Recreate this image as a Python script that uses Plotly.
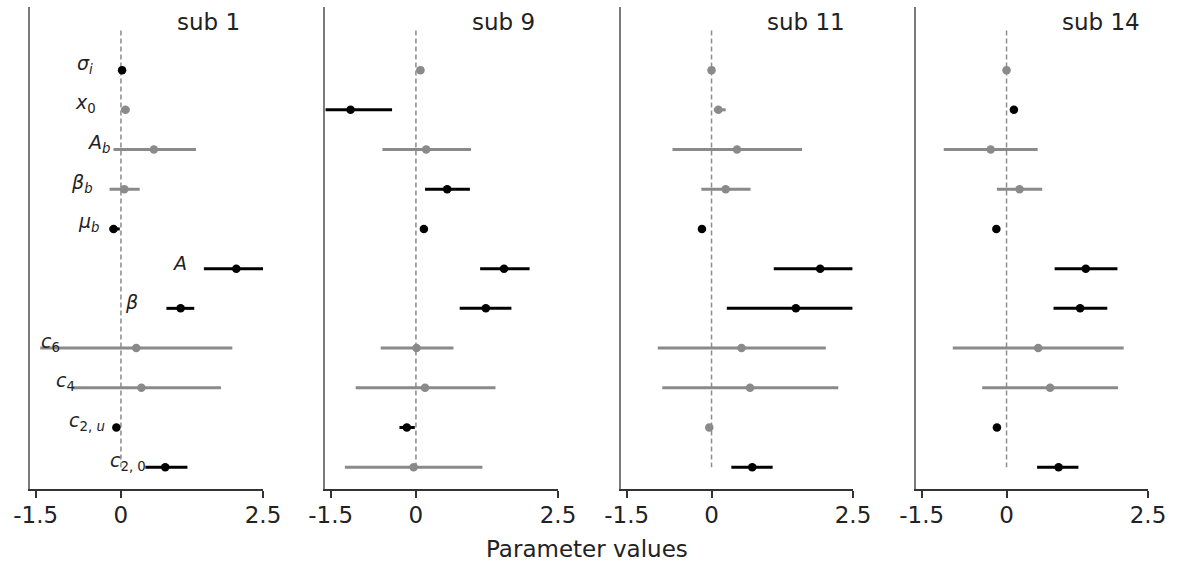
import plotly.graph_objects as go

# ---------------- data ----------------
PARAM_LABELS = [
    "<i>σ<sub>i</sub></i>",
    "<i>x</i><sub>0</sub>",
    "<i>A<sub>b</sub></i>",
    "<i>β<sub>b</sub></i>",
    "<i>μ<sub>b</sub></i>",
    "<i>A</i>",
    "<i>β</i>",
    "<i>c</i><sub>6</sub>",
    "<i>c</i><sub>4</sub>",
    "<i>c</i><sub>2, <i>u</i></sub>",
    "<i>c</i><sub>2, 0</sub>",
]
SUBJECTS = ["sub 1", "sub 9", "sub 11", "sub 14"]

sub1_mean = [0.02, 0.08, 0.58, 0.06, -0.13, 2.03, 1.05, 0.27, 0.36, -0.08, 0.78]
sub1_lo = [0.00, 0.00, -0.13, -0.20, -0.20, 1.46, 0.80, -1.42, -0.85, -0.12, 0.43]
sub1_hi = [0.04, 0.15, 1.32, 0.33, -0.02, 2.50, 1.29, 1.96, 1.76, -0.04, 1.17]
sub1_sig = [1, 0, 0, 0, 1, 1, 1, 0, 0, 1, 1]

sub9_mean = [0.08, -1.15, 0.18, 0.55, 0.14, 1.55, 1.23, 0.01, 0.16, -0.16, -0.04]
sub9_lo = [0.01, -1.59, -0.59, 0.16, 0.10, 1.13, 0.77, -0.62, -1.06, -0.29, -1.25]
sub9_hi = [0.13, -0.42, 0.97, 0.95, 0.18, 2.00, 1.68, 0.66, 1.40, -0.02, 1.17]
sub9_sig = [0, 1, 0, 1, 1, 1, 1, 0, 0, 1, 0]

sub11_mean = [0.00, 0.12, 0.45, 0.25, -0.17, 1.92, 1.49, 0.53, 0.68, -0.04, 0.72]
sub11_lo = [-0.03, 0.04, -0.69, -0.18, -0.20, 1.10, 0.27, -0.95, -0.87, -0.08, 0.35]
sub11_hi = [0.03, 0.25, 1.60, 0.69, -0.14, 2.49, 2.49, 2.02, 2.24, 0.00, 1.08]
sub11_sig = [0, 0, 0, 0, 1, 1, 1, 0, 0, 0, 1]

sub14_mean = [0.00, 0.13, -0.28, 0.23, -0.18, 1.40, 1.30, 0.56, 0.77, -0.17, 0.92]
sub14_lo = [-0.03, 0.10, -1.11, -0.17, -0.21, 0.85, 0.83, -0.95, -0.43, -0.20, 0.54]
sub14_hi = [0.03, 0.16, 0.55, 0.63, -0.15, 1.96, 1.78, 2.07, 1.97, -0.14, 1.27]
sub14_sig = [0, 1, 0, 0, 1, 1, 1, 0, 0, 1, 1]

TICK_VALS = [-1.5, 0, 2.5]
TICK_TEXT = ["-1.5", "0", "2.5"]

# ---------------- layout constants ----------------
W, H = 1178, 563
ML, MR, MT, MB = 30, 30, 7, 74
PW = W - ML - MR
PH = H - MT - MB
FONT = "DejaVu Sans"
BLACK = "#000000"
GREY = "#8a8a8a"
XRANGE = [-1.6, 2.5]
YRANGE = [10.55, -1.59]
DOMAINS_PX = [(30, 263), (325, 558), (621, 853), (916, 1148)]
# label anchor (right edge) positions for parameter names in first panel
LABEL_RIGHT_X = [-0.45, -0.40, -0.15, -0.45, -0.33, 1.19, 0.34, -1.03, -0.78, -0.24, 0.47]

panels = [
    (sub1_mean, sub1_lo, sub1_hi, sub1_sig),
    (sub9_mean, sub9_lo, sub9_hi, sub9_sig),
    (sub11_mean, sub11_lo, sub11_hi, sub11_sig),
    (sub14_mean, sub14_lo, sub14_hi, sub14_sig),
]

fig = go.Figure()
layout = dict(
    width=W, height=H,
    margin=dict(l=ML, r=MR, t=MT, b=MB, autoexpand=False),
    paper_bgcolor="white", plot_bgcolor="white",
    showlegend=False,
    font=dict(family=FONT, size=23, color="#222222"),
)
annotations = []
rows = list(range(len(PARAM_LABELS)))

for k, (mean, lo, hi, sig) in enumerate(panels):
    sfx = "" if k == 0 else str(k + 1)
    xa, ya = "x" + sfx, "y" + sfx
    d0, d1 = DOMAINS_PX[k]
    layout["xaxis" + sfx] = dict(
        domain=[(d0 - ML) / PW, (d1 - ML) / PW], range=XRANGE, anchor=ya,
        automargin=False,
        showgrid=False, zeroline=False, showline=True, linecolor="#333333", linewidth=2,
        ticks="outside", ticklen=7, tickwidth=2, tickcolor="#333333",
        tickvals=TICK_VALS, ticktext=TICK_TEXT, ticklabelstandoff=-3,
        tickfont=dict(family=FONT, size=23, color="#222222"),
    )
    layout["yaxis" + sfx] = dict(
        domain=[0, 1], range=YRANGE, anchor=xa, automargin=False,
        showgrid=False, zeroline=False, showline=True, linecolor="#7a7a7a", linewidth=2,
        showticklabels=False, ticks="",
    )
    # dashed zero line
    fig.add_trace(go.Scatter(
        x=[0, 0], y=[-1, len(rows) - 1], mode="lines", xaxis=xa, yaxis=ya,
        line=dict(color="#8c8c8c", width=1.5, dash="5px,3px"), hoverinfo="skip",
    ))
    for flag, col in ((0, GREY), (1, BLACK)):
        idx = [i for i in rows if sig[i] == flag]
        lx, ly = [], []
        for i in idx:
            lx += [lo[i], hi[i], None]
            ly += [i, i, None]
        fig.add_trace(go.Scatter(
            x=lx, y=ly, mode="lines", xaxis=xa, yaxis=ya,
            line=dict(color=col, width=3), hoverinfo="skip", cliponaxis=False,
        ))
        fig.add_trace(go.Scatter(
            x=[mean[i] for i in idx], y=idx, mode="markers", xaxis=xa, yaxis=ya,
            marker=dict(color=col, size=8.5, line=dict(width=0)), cliponaxis=False,
        ))
    annotations.append(dict(
        text=SUBJECTS[k], xref=xa, yref=ya, x=1.0, y=-1.21,
        xanchor="left", yanchor="middle", xshift=-3, showarrow=False,
        font=dict(family=FONT, size=23, color="#222222"),
    ))

for i, lab in enumerate(PARAM_LABELS):
    annotations.append(dict(
        text=lab, xref="x", yref="y", x=LABEL_RIGHT_X[i], y=i,
        xanchor="right", yanchor="middle", yshift=6, showarrow=False,
        font=dict(family=FONT, size=19, color="#222222"),
    ))

annotations.append(dict(
    text="Parameter values", xref="paper", yref="paper",
    x=(586.5 - ML) / PW, y=-60 / PH, xanchor="center", yanchor="middle", showarrow=False,
    font=dict(family=FONT, size=23, color="#222222"),
))
layout["annotations"] = annotations
fig.update_layout(**layout)
fig.write_html("out.html")
